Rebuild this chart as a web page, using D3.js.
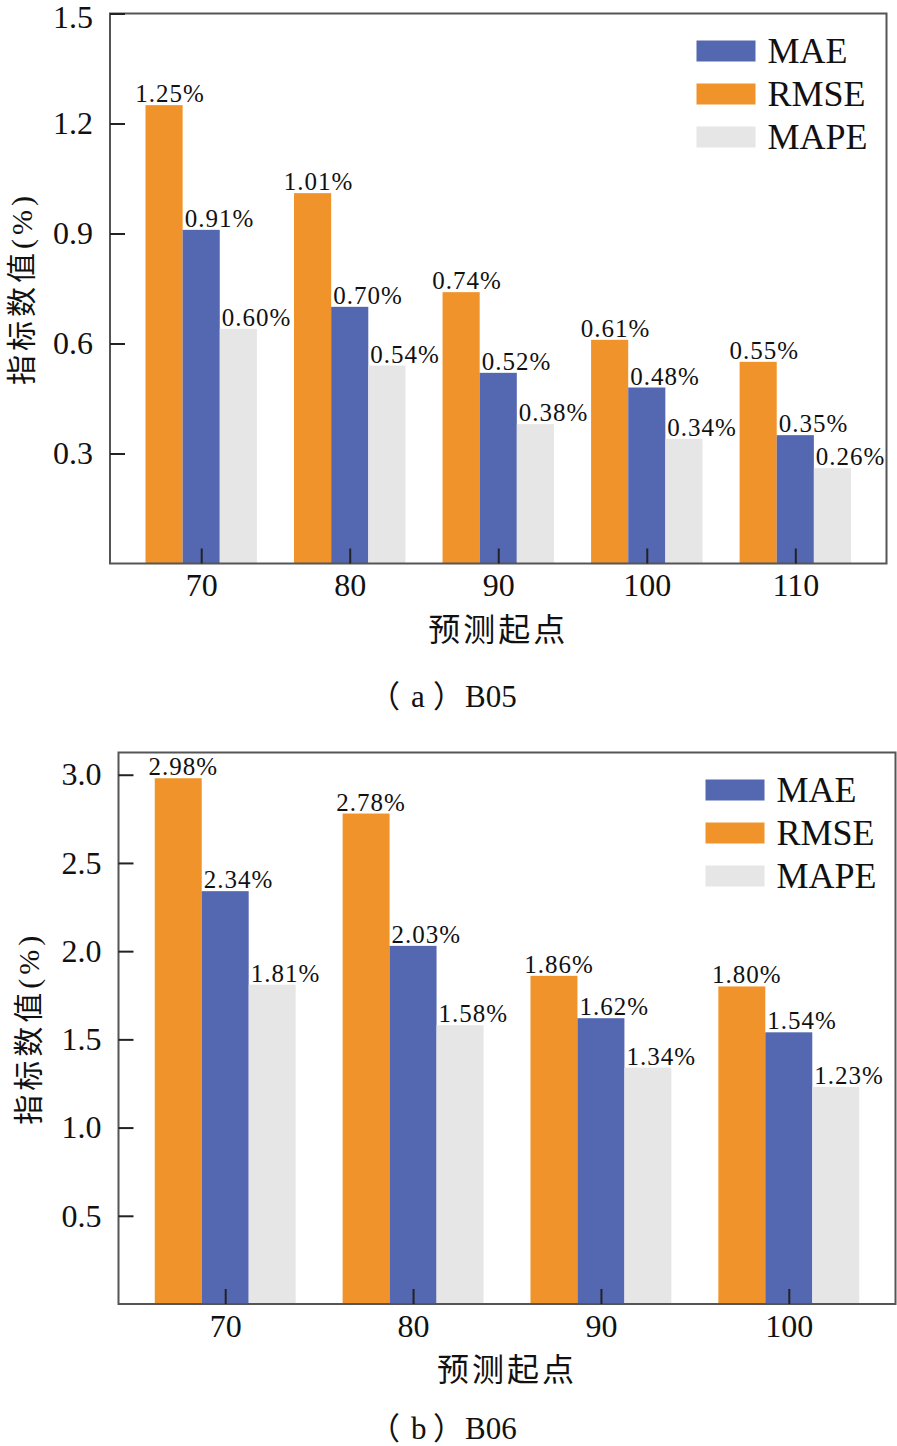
<!DOCTYPE html>
<html>
<head>
<meta charset="utf-8">
<script src="https://cdn.jsdelivr.net/npm/d3@7"></script>
<style>
  html, body { margin: 0; padding: 0; background: #fff; }
  svg { display: block; }
</style>
</head>
<body>
<script>
// ---------- data ----------
const categoriesA = ["70", "80", "90", "100", "110"];
const maeA  = [0.91, 0.70, 0.52, 0.48, 0.35];
const rmseA = [1.25, 1.01, 0.74, 0.61, 0.55];
const mapeA = [0.64, 0.54, 0.38, 0.34, 0.26];      // bar heights as drawn
const mapeLabelA = [0.60, 0.54, 0.38, 0.34, 0.26]; // values printed above bars
const ticksA = [0.3, 0.6, 0.9, 1.2, 1.5];

const categoriesB = ["70", "80", "90", "100"];
const maeB  = [2.34, 2.03, 1.62, 1.54];
const rmseB = [2.98, 2.78, 1.86, 1.80];
const mapeB = [1.81, 1.58, 1.34, 1.23];
const ticksB = [0.5, 1.0, 1.5, 2.0, 2.5, 3.0];

const seriesOrder = ["RMSE", "MAE", "MAPE"];
const legendOrder = ["MAE", "RMSE", "MAPE"];
const colors = { MAE: "#5468B1", RMSE: "#F0932A", MAPE: "#E6E6E6" };

const yTitle = "指标数值(%)";
const xTitle = "预测起点";

const serif = "'Liberation Serif', 'Times New Roman', 'Noto Sans CJK SC', serif";
const cjk = "'Noto Sans CJK SC', 'Liberation Serif', sans-serif";

const svg = d3.select("body").append("svg").attr("width", 897).attr("height", 1446);

function panel(cfg) {
  const g = svg.append("g");
  const x = d3.scalePoint().domain(cfg.categories).range([cfg.left, cfg.right]).padding(cfg.xPad);
  const step = x.step();
  const inner = d3.scaleBand().domain(seriesOrder).range([-0.375 * step, 0.375 * step]);
  const y = d3.scaleLinear().domain([0, cfg.yMax]).range([cfg.bottom, cfg.top]);

  const series = {
    RMSE: { values: cfg.rmse, labels: cfg.rmse },
    MAE: { values: cfg.mae, labels: cfg.mae },
    MAPE: { values: cfg.mape, labels: cfg.mapeLabel || cfg.mape }
  };

  // bars
  seriesOrder.forEach(s => {
    const data = cfg.categories.map((c, i) => ({ c, v: series[s].values[i], l: series[s].labels[i] }));
    g.append("g").selectAll("rect").data(data).join("rect")
      .attr("x", d => x(d.c) + inner(s))
      .attr("y", d => y(d.v))
      .attr("width", inner.bandwidth())
      .attr("height", d => y(0) - y(d.v))
      .attr("fill", colors[s]);
    g.append("g").selectAll("text").data(data).join("text")
      .attr("x", d => s === "RMSE" ? x(d.c) + inner(s) + inner.bandwidth() / 2 + cfg.rmseLabelShift
                                   : x(d.c) + inner(s) + 2)
      .attr("y", d => y(d.v) - 3)
      .attr("text-anchor", s === "RMSE" ? "middle" : "start")
      .attr("font-family", serif)
      .attr("font-size", 25)
      .attr("letter-spacing", 1)
      .attr("fill", "#111")
      .text(d => d3.format(".2f")(d.l) + "%");
  });

  // frame
  g.append("rect")
    .attr("x", cfg.left).attr("y", cfg.top)
    .attr("width", cfg.right - cfg.left).attr("height", cfg.bottom - cfg.top)
    .attr("fill", "none").attr("stroke", "#555").attr("stroke-width", 2);

  // y axis (ticks inward)
  const ya = g.append("g").attr("transform", `translate(${cfg.left},0)`)
    .call(d3.axisLeft(y).tickValues(cfg.ticks).tickFormat(d3.format(".1f"))
      .tickSizeInner(-15).tickSizeOuter(0).tickPadding(17));
  ya.select(".domain").remove();
  ya.selectAll("line").attr("stroke", "#222").attr("stroke-width", 2);
  ya.selectAll("text").attr("font-family", serif).attr("font-size", 32).attr("fill", "#111")
    .attr("dy", d => (y(d) - cfg.top < 12) ? "0.45em" : "0.32em");

  // x axis (ticks inward)
  const xa = g.append("g").attr("transform", `translate(0,${cfg.bottom})`)
    .call(d3.axisBottom(x).tickSizeInner(-15).tickSizeOuter(0).tickPadding(10));
  xa.select(".domain").remove();
  xa.selectAll("line").attr("stroke", "#222").attr("stroke-width", 2);
  xa.selectAll("text").attr("font-family", serif).attr("font-size", 32).attr("fill", "#111");

  // legend
  const lg = g.append("g").attr("transform", `translate(${cfg.right - 190},${cfg.top + 27})`);
  legendOrder.forEach((s, i) => {
    lg.append("rect").attr("x", 0).attr("y", i * 43).attr("width", 59).attr("height", 21)
      .attr("fill", colors[s]);
    lg.append("text").attr("x", 71).attr("y", i * 43 + 22)
      .attr("font-family", serif).attr("font-size", 36).attr("fill", "#111").text(s);
  });

  // axis titles
  g.append("text")
    .attr("transform", `translate(${cfg.yTitleX},${(cfg.top + cfg.bottom) / 2}) rotate(-90)`)
    .attr("text-anchor", "middle").attr("dy", "0.35em")
    .attr("font-family", serif).attr("font-size", 30).attr("letter-spacing", 4)
    .attr("fill", "#111").text(yTitle);
  g.append("text")
    .attr("x", (cfg.left + cfg.right) / 2).attr("y", cfg.bottom + 77)
    .attr("text-anchor", "middle")
    .attr("font-family", cjk).attr("font-size", 32).attr("letter-spacing", 3)
    .attr("fill", "#111").text(xTitle);

  // caption: （x）Bxx
  const cap = g.append("text").attr("y", cfg.captionY)
    .attr("font-family", serif).attr("font-size", 31).attr("fill", "#111");
  cap.append("tspan").attr("x", 369).text("（");
  cap.append("tspan").attr("x", 411).text(cfg.captionLetter);
  cap.append("tspan").attr("x", 433).text("）");
  cap.append("tspan").attr("x", 465).text(cfg.captionName);
}

panel({
  categories: categoriesA, mae: maeA, rmse: rmseA, mape: mapeA, mapeLabel: mapeLabelA,
  ticks: ticksA, yMax: 1.5,
  left: 110, right: 886.5, top: 13.5, bottom: 563.5, xPad: 0.614,
  rmseLabelShift: 6, yTitleX: 21, captionLetter: "a", captionName: "B05", captionY: 707
});

panel({
  categories: categoriesB, mae: maeB, rmse: rmseB, mape: mapeB,
  ticks: ticksB, yMax: 3.126,
  left: 118.5, right: 895.5, top: 752.5, bottom: 1304, xPad: 0.568,
  rmseLabelShift: 5, yTitleX: 28, captionLetter: "b", captionName: "B06", captionY: 1439
});
</script>
</body>
</html>
